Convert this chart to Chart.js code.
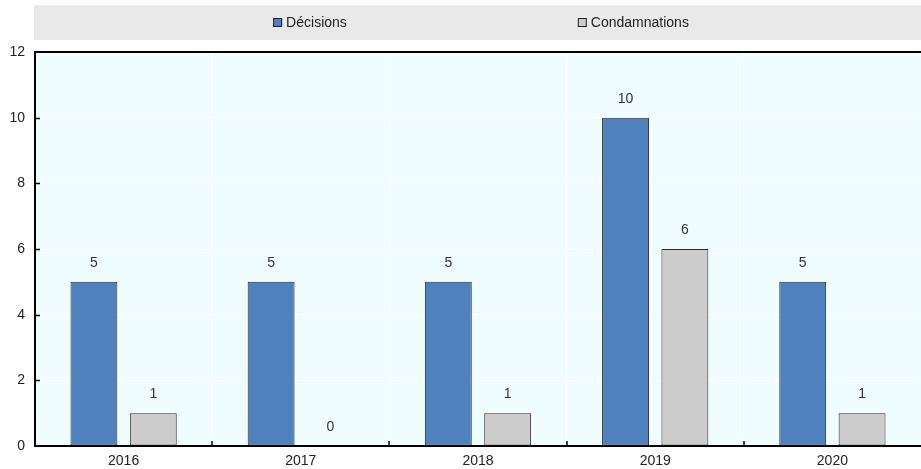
<!DOCTYPE html>
<html>
<head>
<meta charset="utf-8">
<script src="https://cdn.jsdelivr.net/npm/chart.js@4/dist/chart.umd.min.js"></script>
<style>
  html, body { margin: 0; padding: 0; background: #fff; }
  #wrap { width: 921px; height: 469px; }
</style>
</head>
<body>
<div id="wrap"><canvas id="bar-chart" width="921" height="469"></canvas></div>
<script>
const years = ['2016', '2017', '2018', '2019', '2020'];
const decisions = [5, 5, 5, 10, 5];
const condamnations = [1, 0, 1, 6, 1];
const yTicks = [0, 2, 4, 6, 8, 10, 12];

const FONT = '"Liberation Sans", Arial, sans-serif';
const FONT_SIZE = 14;

// bandeau de légende gris au-dessus du graphique
const legendBand = {
    id: 'legendBand',
    beforeDraw(chart) {
        const { ctx, chartArea } = chart;
        ctx.save();
        ctx.fillStyle = '#e9e9e9';
        ctx.fillRect(chartArea.left - 1, 5, chart.width - chartArea.left + 1, 35);

        ctx.font = FONT_SIZE + 'px ' + FONT;
        ctx.textBaseline = 'middle';
        const box = 9, gapText = 4, gapItems = 231;
        const items = chart.data.datasets.map(ds => ({
            label: ds.label,
            color: ds.backgroundColor,
            w: box + gapText + ctx.measureText(ds.label).width
        }));
        const total = items.reduce((s, it) => s + it.w, 0) + gapItems * (items.length - 1);
        let x = (chartArea.left + chart.width) / 2 + 3 - total / 2;
        const y = 22.5;
        items.forEach(it => {
            ctx.fillStyle = it.color;
            ctx.fillRect(x, y - box / 2, box, box);
            ctx.strokeStyle = '#222';
            ctx.lineWidth = 1;
            ctx.strokeRect(x + 0.5, y - box / 2 + 0.5, box - 1, box - 1);
            ctx.fillStyle = '#222';
            ctx.textAlign = 'left';
            ctx.fillText(it.label, x + box + gapText, y + 1);
            x += it.w + gapItems;
        });

        // fond de la zone de tracé
        ctx.fillStyle = '#f0fdff';
        ctx.fillRect(chartArea.left, chartArea.top, chartArea.right - chartArea.left, chartArea.bottom - chartArea.top);
        ctx.restore();
    }
};

// petites graduations vers l'intérieur + valeurs au-dessus des barres
const marksAndLabels = {
    id: 'marksAndLabels',
    afterDatasetsDraw(chart) {
        const { ctx, chartArea, scales } = chart;
        ctx.save();
        ctx.strokeStyle = '#000';
        ctx.lineWidth = 1.5;
        yTicks.slice(1, -1).forEach(v => {
            const py = Math.round(scales.y.getPixelForValue(v)) + 0.5;
            ctx.beginPath();
            ctx.moveTo(chartArea.left, py);
            ctx.lineTo(chartArea.left + 5, py);
            ctx.stroke();
        });
        for (let i = 0; i < years.length - 1; i++) {
            const px = Math.round((scales.x.getPixelForValue(i) + scales.x.getPixelForValue(i + 1)) / 2);
            ctx.beginPath();
            ctx.moveTo(px, chartArea.bottom);
            ctx.lineTo(px, chartArea.bottom - 5);
            ctx.stroke();
        }

        ctx.font = FONT_SIZE + 'px ' + FONT;
        ctx.fillStyle = '#333';
        ctx.textAlign = 'center';
        ctx.textBaseline = 'middle';
        chart.data.datasets.forEach((ds, di) => {
            chart.getDatasetMeta(di).data.forEach((bar, i) => {
                ctx.fillText(String(ds.data[i]), bar.x, bar.y - 19);
            });
        });
        ctx.restore();
    }
};

const ctx = document.getElementById('bar-chart').getContext('2d');
const myChart = new Chart(ctx, {
    type: 'bar',
    data: {
        labels: years,
        datasets: [{
            label: 'Décisions',
            data: decisions,
            backgroundColor: '#4f81bd',
            borderColor: '#2b2b2b',
            borderWidth: 1,
            borderSkipped: false
        }, {
            label: 'Condamnations',
            data: condamnations,
            backgroundColor: '#cccccc',
            borderColor: '#2b2b2b',
            borderWidth: 1,
            borderSkipped: false
        }]
    },
    options: {
        responsive: false,
        animation: false,
        categoryPercentage: 0.67,
        barPercentage: 0.79,
        layout: { padding: { top: 52, right: 0, bottom: 0, left: 0 } },
        plugins: {
            legend: { display: false },
            tooltip: { enabled: false }
        },
        scales: {
            x: {
                afterFit(scale) {
                    scale.height = 23;
                },
                grid: { color: '#ffffff', lineWidth: 1, drawTicks: false, offset: true },
                border: { display: true, color: '#000', width: 2 },
                ticks: { color: '#222', padding: 7, font: { family: FONT, size: FONT_SIZE } }
            },
            y: {
                min: 0,
                max: 12,
                afterBuildTicks(scale) {
                    scale.ticks = yTicks.map(v => ({ value: v }));
                },
                afterFit(scale) {
                    scale.width = 35;
                },
                grid: {
                    drawTicks: false,
                    color: c => (c.tick && c.tick.value === 12 ? '#000' : '#ffffff'),
                    lineWidth: c => (c.tick && c.tick.value === 12 ? 2 : 1)
                },
                border: { display: true, color: '#000', width: 2 },
                ticks: { color: '#222', padding: 10, font: { family: FONT, size: FONT_SIZE } }
            }
        }
    },
    plugins: [legendBand, marksAndLabels]
});
</script>
</body>
</html>
